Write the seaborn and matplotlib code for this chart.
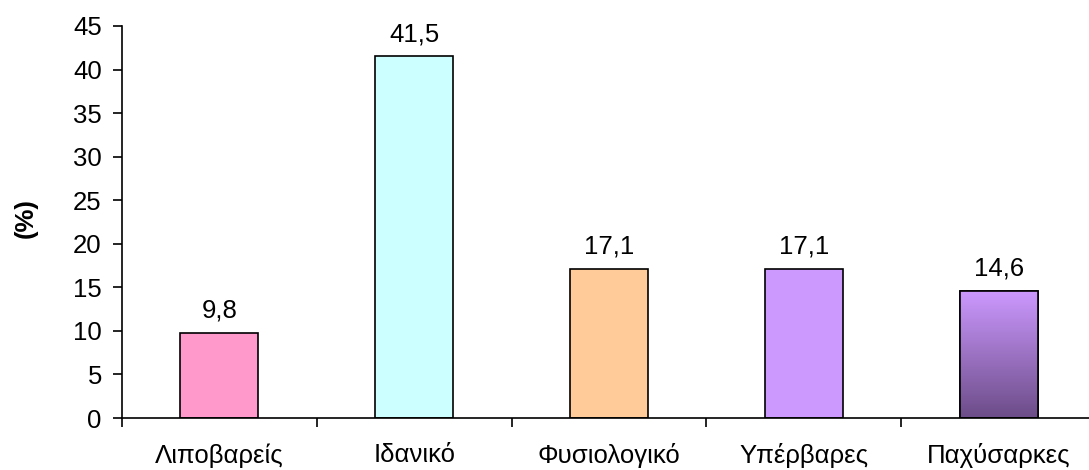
import numpy as np
import pandas as pd
import matplotlib
matplotlib.use("Agg")
import matplotlib.pyplot as plt
import seaborn as sns
from matplotlib.colors import LinearSegmentedColormap

categories = ["Λιποβαρείς", "Ιδανικό", "Φυσιολογικό", "Υπέρβαρες", "Παχύσαρκες"]
values = [9.8, 41.5, 17.1, 17.1, 14.6]
bar_colors = ["#FF99CC", "#CCFFFF", "#FFCC99", "#CC99FF", "#CC99FF"]
gradient_top = "#CC99FF"
gradient_bottom = "#6C4C88"
y_ticks = [0, 5, 10, 15, 20, 25, 30, 35, 40, 45]

sns.set_style("white")
plt.rcParams["font.family"] = ["Liberation Sans", "DejaVu Sans"]
plt.rcParams["text.color"] = "black"
plt.rcParams["axes.labelcolor"] = "black"
plt.rcParams["xtick.color"] = "black"
plt.rcParams["ytick.color"] = "black"

FS = 18.5

df = pd.DataFrame({"category": categories, "value": values})

fig = plt.figure(figsize=(10.89, 4.70), dpi=100)
ax = fig.add_axes([122 / 1089, 52 / 470, 974 / 1089, 392 / 470])

sns.barplot(data=df, x="category", y="value", hue="category",
            palette=bar_colors, legend=False, width=0.4,
            edgecolor="black", linewidth=1.2, saturation=1, ax=ax)

ax.set_ylim(0, 45)
ax.set_xlim(-0.5, len(categories) - 0.5)
ax.set_yticks(y_ticks)
ax.set_yticklabels([str(t) for t in y_ticks])

# vertical shading on the last bar
last = ax.patches[-1]
cmap = LinearSegmentedColormap.from_list("obese", [gradient_bottom, gradient_top])
x0, w = last.get_x(), last.get_width()
h = last.get_height()
grad = np.linspace(0, 1, 256).reshape(-1, 1)
img = ax.imshow(grad, cmap=cmap, origin="lower", aspect="auto",
                extent=[x0, x0 + w, 0, h], zorder=last.get_zorder() + 0.1)
img.set_clip_path(last)
ax.add_patch(plt.Rectangle((x0, 0), w, h, fill=False, edgecolor="black",
                           linewidth=1.2, zorder=last.get_zorder() + 0.2))
ax.set_xlim(-0.5, len(categories) - 0.5)
ax.set_ylim(0, 45)

for i, v in enumerate(values):
    ax.annotate(f"{v:.1f}".replace(".", ","), (i, v), xytext=(0, 7.5),
                textcoords="offset points", ha="center", va="bottom",
                fontsize=FS, color="black")

for side in ["top", "right"]:
    ax.spines[side].set_visible(False)
for side in ["left", "bottom"]:
    ax.spines[side].set_color("black")
    ax.spines[side].set_linewidth(1.2)

ax.set_xticks(np.arange(-0.5, len(categories), 1.0), minor=True)
ax.tick_params(axis="x", which="major", length=0, pad=18, labelsize=FS,
               labelcolor="black")
ax.tick_params(axis="x", which="minor", length=6.5, width=1.2, color="black",
               direction="out", bottom=True)
ax.tick_params(axis="y", which="major", length=6.5, width=1.2, color="black",
               direction="out", left=True, pad=8, labelsize=FS,
               labelcolor="black")

ax.set_xlabel("")
ax.set_ylabel("(%)", fontsize=FS, fontweight="bold", color="black")
ax.yaxis.set_label_coords(-0.086, 0.51)

fig.savefig("out.png", dpi=100)
